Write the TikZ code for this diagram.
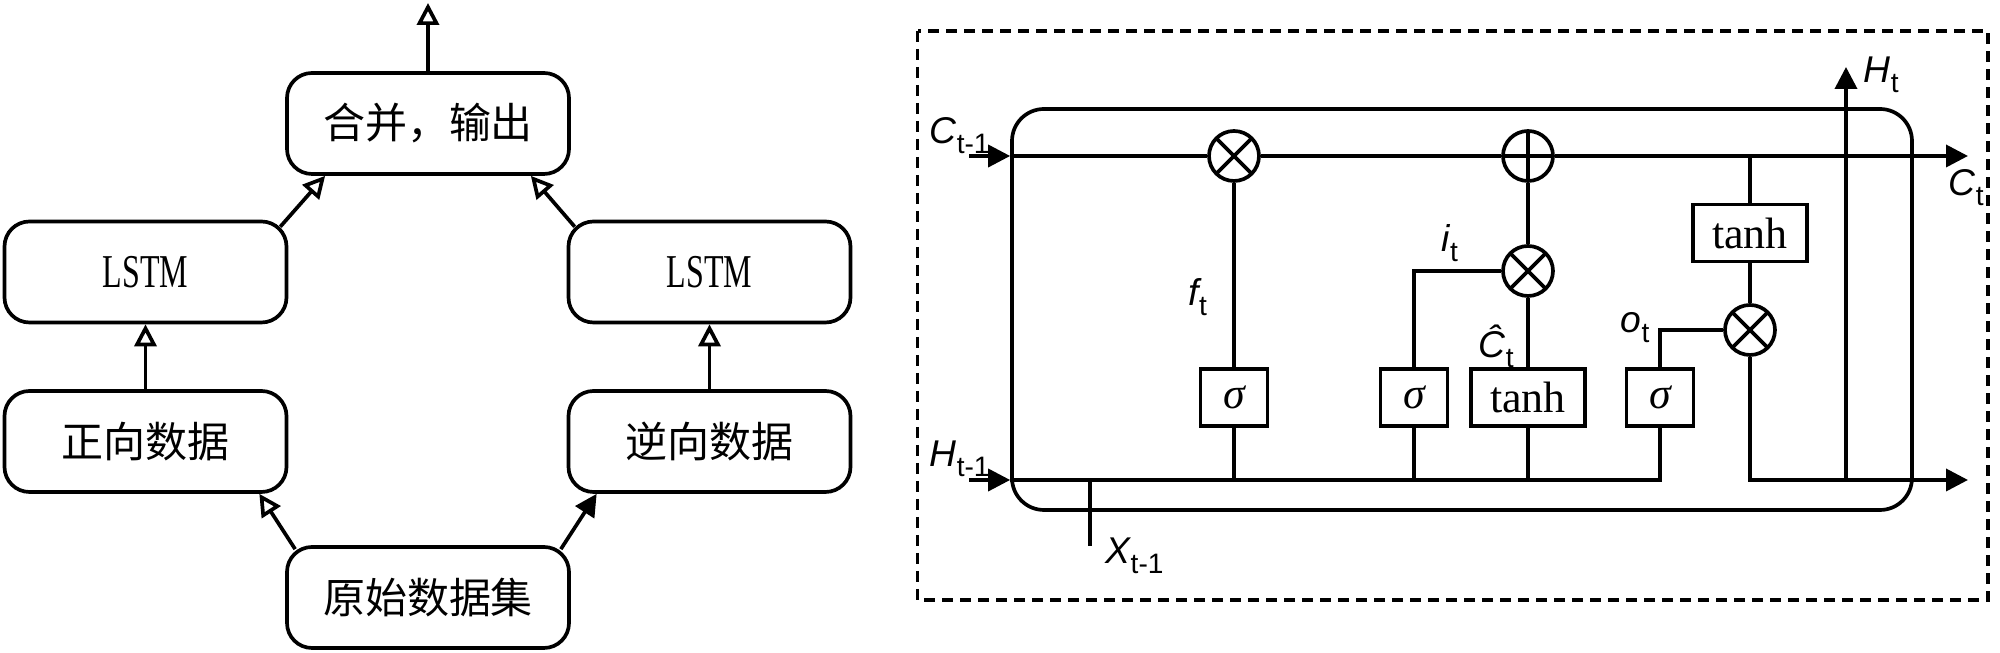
\documentclass[tikz,border=0pt]{standalone}
\usepackage{fontspec}
\setmainfont{Liberation Serif}
\newfontfamily\cjkfont{Noto Sans CJK SC}
\newfontfamily\lblfont{Liberation Sans}
\newfontfamily\lstmfont[FakeStretch=0.68]{Liberation Serif}
\usetikzlibrary{arrows.meta,calc}
\newcommand\mylab[2]{{\lblfont\fontsize{10.6pt}{11pt}\selectfont\itshape #1}{\lblfont\fontsize{8pt}{9pt}\selectfont\raisebox{-1mm}{#2}}}
\begin{document}
\begin{tikzpicture}[x=0.1mm,y=-0.1mm,line width=1.05pt,
  box/.style={draw,rounded corners=2.5mm,minimum width=28.2mm,minimum height=10.1mm,inner sep=0pt,
    font={\cjkfont\fontsize{11.95pt}{13pt}\selectfont}},
  lstmtext/.style={font={\lstmfont\fontsize{13.4pt}{14pt}\selectfont}},
  oarr/.style={-{Triangle[open,length=2.2mm,width=2.2mm]}},
  farr/.style={-{Triangle[length=2.2mm,width=2.2mm]}},
  gate/.style={draw,minimum width=6.7mm,minimum height=5.7mm,inner sep=0pt,
    font={\fontsize{12.5pt}{13pt}\selectfont}},
  opmul/.style={circle,draw,minimum size=5mm,inner sep=0pt,fill=white,
    path picture={\draw (path picture bounding box.north west) -- (path picture bounding box.south east)
      (path picture bounding box.north east) -- (path picture bounding box.south west);}},
  opadd/.style={circle,draw,minimum size=5mm,inner sep=0pt,fill=white,
    path picture={\draw (path picture bounding box.north) -- (path picture bounding box.south)
      (path picture bounding box.east) -- (path picture bounding box.west);}},
  lab/.style={anchor=base west,inner sep=0pt}]
\useasboundingbox (0,0) rectangle (2000,653);
% ---------- left diagram ----------
\node[box] (merge) at (428,123.5) {合并，输出};
\node[box,lstmtext] (lstmL) at (145.5,272) {LSTM};
\node[box,lstmtext] (lstmR) at (709.5,272) {LSTM};
\node[box] (fwd) at (145.5,441.5) {正向数据};
\node[box] (bwd) at (709.5,441.5) {逆向数据};
\node[box] (raw) at (428,597.5) {原始数据集};
\coordinate (out) at (428,3);
\draw[oarr] (merge.north) -- (out);
\draw[oarr] ($(lstmL.north east)+(-8,7)$) -- ($(merge.south west)+(40,0)$);
\draw[oarr] ($(lstmR.north west)+(8,7)$) -- ($(merge.south east)+(-40,0)$);
\draw[oarr] (fwd.north) -- (lstmL.south);
\draw[oarr] (bwd.north) -- (lstmR.south);
\draw[oarr] ($(raw.north west)+(10,4)$) -- ($(fwd.south east)+(-29,0)$);
\draw[farr] ($(raw.north east)+(-10,4)$) -- ($(bwd.south west)+(30,0)$);
% ---------- LSTM cell ----------
\draw[line width=0.9pt,dash pattern=on 1.1mm off 0.7mm] (917.5,31) rectangle (1988,600);
\node[draw,rounded corners=3.2mm,minimum width=90mm,minimum height=40.1mm,inner sep=0pt] (cell) at (1462,309.5) {};
\coordinate (cin) at (969,156);
\coordinate (hin) at (969,480);
\coordinate (cout) at (1968,156);
\coordinate (hout) at (1968,480);
\coordinate (xin) at (1090,546);
\coordinate (htop) at (1846,67);
\node[opmul] (m1) at (1234,156) {};
\node[opadd] (a1) at (1528,156) {};
\node[opmul] (m2) at (1528,271) {};
\node[opmul] (m3) at (1750,330) {};
\node[gate] (s1) at (1234,397.5) {\itshape σ};
\node[gate] (s2) at (1414,397.5) {\itshape σ};
\node[gate,minimum width=11.4mm] (t1) at (1528,397.5) {tanh};
\node[gate] (s3) at (1660,397.5) {\itshape σ};
\node[gate,minimum width=11.4mm] (t2) at (1750,233) {tanh};
\draw[farr] (cin) -- (cell.west |- cin);
\draw (cell.west |- cin) -- (m1);
\draw (m1) -- (a1);
\draw[farr] (a1) -- (cout);
\draw[farr] (hin) -- (cell.west |- hin);
\draw (cell.west |- hin) -- (s3.south |- hin) -- (s3.south);
\draw (s1) -- (m1);
\draw (s1.south) -- (s1.south |- hin);
\draw (s2.south) -- (s2.south |- hin);
\draw (t1.south) -- (t1.south |- hin);
\draw (s2.north) |- (m2.west);
\draw (t1) -- (m2);
\draw (m2) -- (a1);
\draw (s3.north) |- (m3.west);
\draw (t2.north |- cin) -- (t2.north);
\draw (t2) -- (m3);
\draw[farr] (m3.south) |- (hout);
\coordinate (hj) at (htop |- hout);
\draw[farr] (hj) -- (htop);
\coordinate (xj) at (xin |- hin);
\draw (xj) -- (xin);
% labels
\node[lab] (lC) at (928,144) {\mylab{C}{t-1}};
\node[lab] (lH) at (928,467) {\mylab{H}{t-1}};
\node[lab] (lX) at (1104,564) {\mylab{X}{t-1}};
\node[lab] (lf) at (1187,306) {\mylab{f}{t}};
\node[lab] (li) at (1440,252) {\mylab{i}{t}};
\node[lab] (lCh) at (1477,358) {\mylab{Ĉ}{t}};
\node[lab] (lo) at (1619,333) {\mylab{o}{t}};
\node[lab] (lHt) at (1862,83) {\mylab{H}{t}};
\node[lab] (lCt) at (1947,196) {\mylab{C}{t}};
\end{tikzpicture}
\end{document}
